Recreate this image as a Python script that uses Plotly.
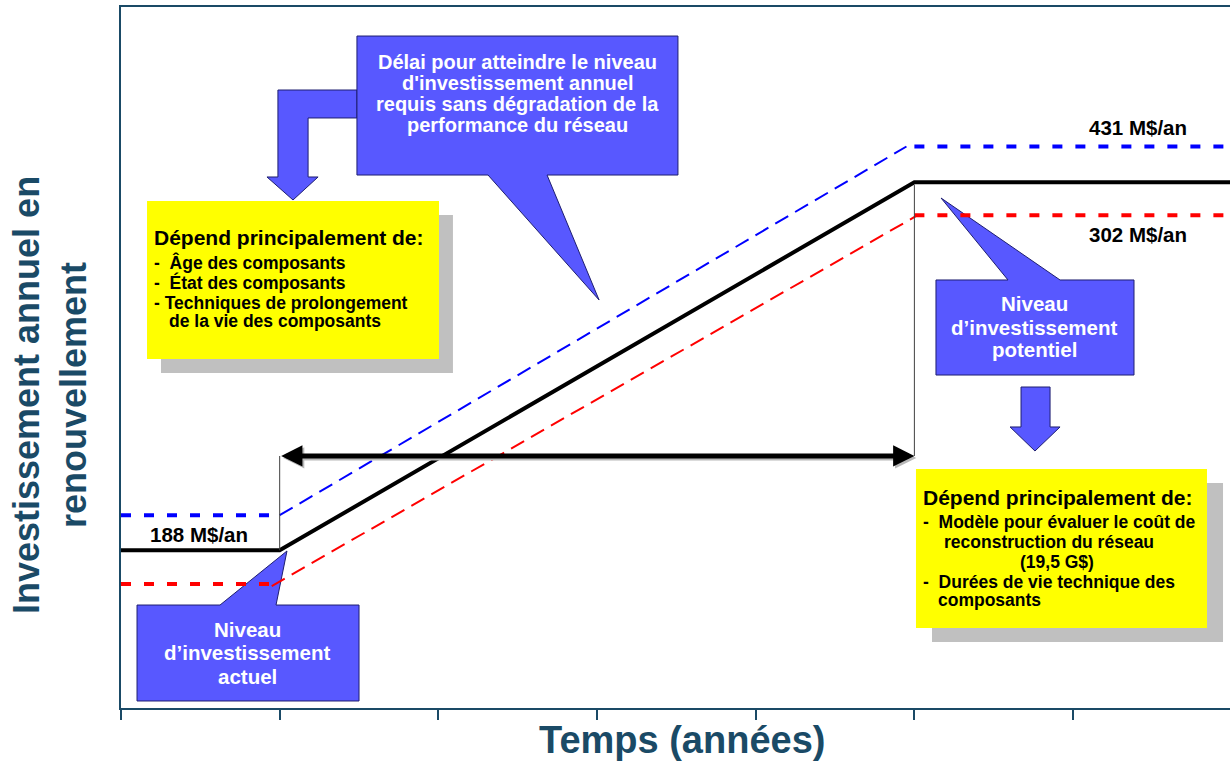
import plotly.graph_objects as go

# --- Trajectoires d'investissement (axe vertical en unités relatives, schéma non à l'échelle) ---
# Temps : 0 = aujourd'hui, 1 = début de la hausse, 5 = niveau potentiel atteint
x_central = [0, 1, 5, 7]
y_central = [22.5, 22.5, 75.0, 75.0]

x_haut_actuel = [0, 1]
y_haut_actuel = [27.5, 27.5]
x_haut_hausse = [1.0, 4.95]
y_haut_hausse = [27.5, 80.1]
x_haut_cible = [5, 7]
y_haut_cible = [80.1, 80.1]

x_bas_actuel = [0, 0.95]
y_bas_actuel = [17.7, 17.7]
x_bas_hausse = [0.95, 5.02]
y_bas_hausse = [17.4, 70.3]
x_bas_cible = [5, 7]
y_bas_cible = [70.3, 70.3]

# Montants annuels indiqués (M$/an) : actuel, potentiel haut, potentiel bas
montants = [188, 431, 302]
jalons = [0, 1, 2, 3, 4, 5, 6]

FONT = "Liberation Sans, Arial, sans-serif"
TEAL = "#1A4A66"
BLEU_BULLE = "#5858FF"
BORD_BULLE = "#1E1E70"
JAUNE = "#FFFF00"
OMBRE = "#C0C0C0"

fig = go.Figure()


def ligne(x, y, couleur, largeur, tirets="solid"):
    fig.add_trace(go.Scatter(
        x=x, y=y, mode="lines", hoverinfo="skip", showlegend=False,
        line=dict(color=couleur, width=largeur, dash=tirets),
    ))


# Scénario haut (bleu), scénario bas (rouge), trajectoire centrale (noir)
ligne(x_haut_actuel, y_haut_actuel, "#0000FF", 4, "10px,13px")
ligne(x_haut_hausse, y_haut_hausse, "#0000FF", 2, "15px,8px")
ligne(x_haut_cible, y_haut_cible, "#0000FF", 4, "10px,13px")
ligne(x_bas_actuel, y_bas_actuel, "#FF0000", 4, "10px,13px")
ligne(x_bas_hausse, y_bas_hausse, "#FF0000", 2, "15px,8px")
ligne(x_bas_cible, y_bas_cible, "#FF0000", 4, "10px,13px")
ligne(x_central, y_central, "#000000", 4)

# Repères verticaux délimitant la période de transition
ligne([x_central[1], x_central[1]], [y_central[1], 35.95], "#404040", 1)
ligne([x_central[2], x_central[2]], [35.95, y_central[2] - 0.4], "#404040", 1)


def polygone(points):
    return "M " + " L ".join(f"{px},{py}" for px, py in points) + " Z"


def forme(points, remplissage, bord=None):
    fig.add_shape(
        type="path", path=polygone(points), xref="x", yref="y", layer="below",
        fillcolor=remplissage,
        line=dict(color=bord or remplissage, width=1 if bord else 0),
    )


def rectangle(x0, y0, x1, y1, remplissage, bord=None):
    forme([(x0, y0), (x1, y0), (x1, y1), (x0, y1)], remplissage, bord)


# Flèche coudée vers l'encadré de gauche
forme([(1.487, 88.16), (0.989, 88.16), (0.989, 75.75), (0.920, 75.75),
       (1.084, 72.47), (1.242, 75.75), (1.179, 75.75), (1.179, 84.17),
       (1.487, 84.17)], BLEU_BULLE, BORD_BULLE)

# Bulle du haut : délai de transition
forme([(1.487, 95.86), (3.510, 95.86), (3.510, 76.03), (2.685, 76.03),
       (3.013, 58.20), (2.313, 76.03), (1.487, 76.03)], BLEU_BULLE, BORD_BULLE)

# Encadré jaune de gauche avec ombre
rectangle(0.252, 70.33, 2.092, 47.79, OMBRE)
rectangle(0.164, 72.33, 2.004, 49.79, JAUNE)

# Bulle : niveau actuel
forme([(0.101, 14.69), (0.624, 14.69), (1.046, 22.40), (0.977, 14.69),
       (1.500, 14.69), (1.500, 1.00), (0.101, 1.00)], BLEU_BULLE, BORD_BULLE)

# Bulle : niveau potentiel
forme([(5.136, 61.06), (5.590, 61.06), (5.168, 72.75), (5.918, 61.06),
       (6.384, 61.06), (6.384, 47.50), (5.136, 47.50)], BLEU_BULLE, BORD_BULLE)

# Flèche vers le bas, vers l'encadré de droite
forme([(5.672, 45.79), (5.855, 45.79), (5.855, 40.09), (5.918, 40.09),
       (5.760, 36.66), (5.603, 40.09), (5.672, 40.09)], BLEU_BULLE, BORD_BULLE)

# Encadré jaune de droite avec ombre
rectangle(5.111, 32.10, 6.945, 9.42, OMBRE)
rectangle(5.010, 34.09, 6.844, 11.41, JAUNE)


# Double flèche : durée de la transition (avec une ombre grise légère)
def double_fleche(dx, dy, couleur):
    fig.add_annotation(
        x=x_central[2] + dx, y=35.95 + dy, ax=x_central[1] + dx, ay=35.95 + dy,
        xref="x", yref="y", axref="x", ayref="y", text="",
        showarrow=True, arrowhead=2, startarrowhead=2, arrowside="end+start",
        arrowsize=0.85, startarrowsize=0.85, arrowwidth=5, arrowcolor=couleur,
        standoff=0, startstandoff=0,
    )


double_fleche(0.012, -0.28, "#B8B8B8")
double_fleche(0, 0, "#000000")


def texte(x, y, s, taille, couleur="#000000", ancre="left", xref="x", yref="y", angle=0):
    fig.add_annotation(
        x=x, y=y, text=s, xref=xref, yref=yref, showarrow=False,
        xanchor=ancre, yanchor="middle", textangle=angle, borderpad=0,
        font=dict(family=FONT, size=taille, color=couleur, weight="bold"),
    )


NB = "\u00a0"

# Montants
texte(0.492, 24.68, f"{montants[0]} M$/an", 20.5, ancre="center")
texte(6.410, 82.88, f"{montants[1]} M$/an", 20.5, ancre="center")
texte(6.410, 67.48, f"{montants[2]} M$/an", 20.5, ancre="center")

# Texte de la bulle du haut
for yy, s in zip([92.15, 89.16, 86.16, 83.17],
                 ["Délai pour atteindre le niveau",
                  "d'investissement annuel",
                  "requis sans dégradation de la",
                  "performance du réseau"]):
    texte(2.499, yy, s, 20, "#FFFFFF", "center")

# Bulles de niveau
for yy, s in zip([11.13, 7.85, 4.56], ["Niveau", "d’investissement", "actuel"]):
    texte(0.800, yy, s, 20.5, "#FFFFFF", "center")
for yy, s in zip([57.77, 54.35, 51.21], ["Niveau", "d’investissement", "potentiel"]):
    texte(5.760, yy, s, 20.5, "#FFFFFF", "center")

# Encadré de gauche
texte(0.202, 67.19, "Dépend principalement de:", 21)
texte(0.202, 63.62, f"-{NB}{NB}Âge des composants", 17.5)
texte(0.202, 60.77, f"-{NB}{NB}État des composants", 17.5)
texte(0.202, 57.77, "- Techniques de prolongement", 17.5)
texte(0.296, 55.21, "de la vie des composants", 17.5)

# Encadré de droite
texte(5.048, 30.10, "Dépend principalement de:", 21)
texte(5.048, 26.53, f"-{NB}{NB}Modèle pour évaluer le coût de", 17.5)
texte(5.181, 23.68, "reconstruction du réseau", 17.5)
texte(5.659, 20.83, "(19,5 G$)", 17.5)
texte(5.048, 17.97, f"-{NB}{NB}Durées de vie technique des", 17.5)
texte(5.143, 15.41, "composants", 17.5)

# Titres des axes
texte(0.506, -0.0456, "Temps (années)", 38, TEAL, "center", "paper", "paper")
texte(-0.064, 0.4465, "Investissement annuel en<br>renouvellement", 36, TEAL,
      "center", "paper", "paper", -90)

fig.update_xaxes(
    range=[0, 6.989], tickmode="array", tickvals=jalons, ticks="outside",
    ticklen=10, tickwidth=1.5, tickcolor=TEAL, showticklabels=False,
    showgrid=False, zeroline=False, showline=True, linecolor=TEAL,
    linewidth=2, mirror=True, fixedrange=True,
)
fig.update_yaxes(
    range=[0, 100], showticklabels=False, ticks="", showgrid=False,
    zeroline=False, showline=True, linecolor=TEAL, linewidth=2, fixedrange=True,
)
fig.update_layout(
    width=1230, height=761, margin=dict(l=121, r=0, t=7, b=53),
    plot_bgcolor="#FFFFFF", paper_bgcolor="#FFFFFF", showlegend=False,
)

fig.write_html("out.html")
